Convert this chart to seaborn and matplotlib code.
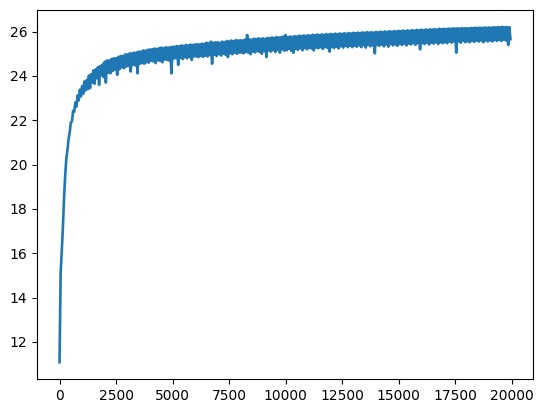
import numpy as np
import matplotlib
matplotlib.use("Agg")
import matplotlib.pyplot as plt
import seaborn as sns

# sample step along x (one value every 50 iterations)
step = 50

# values, one list per 1000 iterations (alternating upper/lower band)
seg_00 = [11.08, 15.15, 16.1, 17.2, 18.5, 19.5, 20.25, 20.65, 21.15, 21.45,
          21.9, 21.95, 22.42, 22.38, 22.8, 22.62, 23.12, 22.9, 23.38, 23.08]
seg_01 = [23.55, 23.2, 23.75, 23.35, 23.82, 23.4, 24.02, 23.45, 24.08, 23.7,
          24.25, 23.65, 24.3, 23.9, 24.4, 23.6, 24.45, 24.02, 24.52, 23.95]
seg_02 = [24.64, 23.7, 24.7, 24.15, 24.7, 24.12, 24.77, 24.22, 24.8, 24.28,
          24.8, 24.05, 24.86, 24.3, 24.9, 24.38, 24.9, 24.35, 24.97, 24.42]
seg_03 = [24.98, 24.45, 25.02, 24.2, 25.02, 24.5, 25.05, 24.48, 25.06, 24.12,
          25.1, 24.55, 25.1, 24.58, 25.15, 24.55, 25.14, 24.62, 25.18, 24.6]
seg_04 = [25.2, 24.68, 25.2, 24.66, 25.24, 24.58, 25.22, 24.7, 25.25, 24.68,
          25.28, 24.62, 25.26, 24.74, 25.3, 24.72, 25.28, 24.7, 25.3, 24.12]
seg_05 = [25.32, 24.78, 25.33, 24.8, 25.35, 24.5, 25.34, 24.82, 25.38, 24.76,
          25.36, 24.84, 25.4, 24.8, 25.38, 24.86, 25.42, 24.72, 25.4, 24.88]
seg_06 = [25.42, 24.88, 25.44, 24.85, 25.42, 24.9, 25.46, 24.86, 25.45, 24.92,
          25.5, 24.88, 25.47, 24.94, 25.55, 24.55, 25.5, 24.96, 25.52, 24.9]
seg_07 = [25.52, 24.98, 25.5, 24.92, 25.55, 25.0, 25.53, 24.95, 25.58, 24.85,
          25.56, 25.02, 25.6, 24.98, 25.58, 25.05, 25.62, 25.0, 25.6, 25.06]
seg_08 = [25.62, 25.05, 25.6, 25.02, 25.64, 25.08, 25.85, 25.05, 25.65, 24.98,
          25.64, 25.1, 25.68, 25.06, 25.66, 25.12, 25.7, 25.08, 25.68, 25.0]
seg_09 = [25.7, 25.12, 25.68, 24.85, 25.72, 25.15, 25.7, 25.1, 25.74, 25.16,
          25.72, 25.08, 25.76, 25.18, 25.74, 25.05, 25.75, 25.2, 25.78, 25.14]
seg_10 = [25.85, 25.16, 25.76, 25.22, 25.78, 25.14, 25.77, 25.05, 25.8, 25.22,
          25.78, 25.18, 25.82, 25.25, 25.8, 25.16, 25.83, 25.26, 25.81, 25.2]
seg_11 = [25.84, 25.26, 25.82, 25.24, 25.86, 25.15, 25.84, 25.28, 25.87, 25.25,
          25.85, 25.3, 25.88, 25.22, 25.86, 25.3, 25.89, 25.26, 25.87, 25.1]
seg_12 = [25.9, 25.3, 25.88, 25.26, 25.91, 25.32, 25.89, 25.24, 25.92, 25.34,
          25.9, 25.28, 25.93, 25.36, 25.91, 25.3, 25.94, 25.36, 25.92, 25.3]
seg_13 = [25.95, 25.36, 25.93, 25.32, 25.96, 25.38, 25.94, 25.3, 25.97, 25.4,
          25.95, 25.28, 25.98, 25.4, 25.96, 25.34, 25.98, 25.38, 25.96, 25.02]
seg_14 = [25.99, 25.4, 25.97, 25.36, 26.0, 25.42, 25.98, 25.34, 26.01, 25.42,
          25.99, 25.32, 26.02, 25.44, 26.0, 25.38, 26.03, 25.42, 26.01, 25.36]
seg_15 = [26.04, 25.44, 26.02, 25.4, 26.05, 25.46, 26.03, 25.38, 26.06, 25.46,
          26.04, 25.42, 26.07, 25.48, 26.05, 25.4, 26.08, 25.48, 26.06, 25.2]
seg_16 = [26.09, 25.48, 26.07, 25.44, 26.1, 25.5, 26.08, 25.42, 26.11, 25.5,
          26.09, 25.46, 26.12, 25.52, 26.1, 25.44, 26.13, 25.52, 26.11, 25.48]
seg_17 = [26.13, 25.52, 26.12, 25.48, 26.14, 25.55, 26.13, 25.5, 26.15, 25.56,
          26.14, 25.05, 26.15, 25.56, 26.14, 25.5, 26.16, 25.58, 26.15, 25.52]
seg_18 = [26.16, 25.56, 26.15, 25.52, 26.17, 25.58, 26.16, 25.54, 26.18, 25.6,
          26.17, 25.55, 26.18, 25.6, 26.17, 25.52, 26.19, 25.6, 26.18, 25.56]
seg_19 = [26.19, 25.6, 26.18, 25.56, 26.2, 25.62, 26.19, 25.58, 26.21, 25.62,
          26.2, 25.58, 26.22, 25.64, 26.2, 25.6, 26.21, 25.4, 26.2, 25.66]

values = np.array(seg_00 + seg_01 + seg_02 + seg_03 + seg_04 + seg_05 + seg_06 +
                  seg_07 + seg_08 + seg_09 + seg_10 + seg_11 + seg_12 + seg_13 +
                  seg_14 + seg_15 + seg_16 + seg_17 + seg_18 + seg_19)
iterations = np.arange(len(values)) * step

fig = plt.figure(figsize=(5.43, 4.13), dpi=100)
ax = fig.add_subplot(111)
fig.subplots_adjust(left=0.0681, right=0.9816, top=0.9758, bottom=0.0823)

sns.lineplot(x=iterations, y=values, ax=ax, color="#1f77b4", linewidth=1.9,
             estimator=None, sort=False)

ax.set_yticks([12, 14, 16, 18, 20, 22, 24, 26])
ax.set_xticks([0, 2500, 5000, 7500, 10000, 12500, 15000, 17500, 20000])

fig.savefig("out.png", dpi=100)
